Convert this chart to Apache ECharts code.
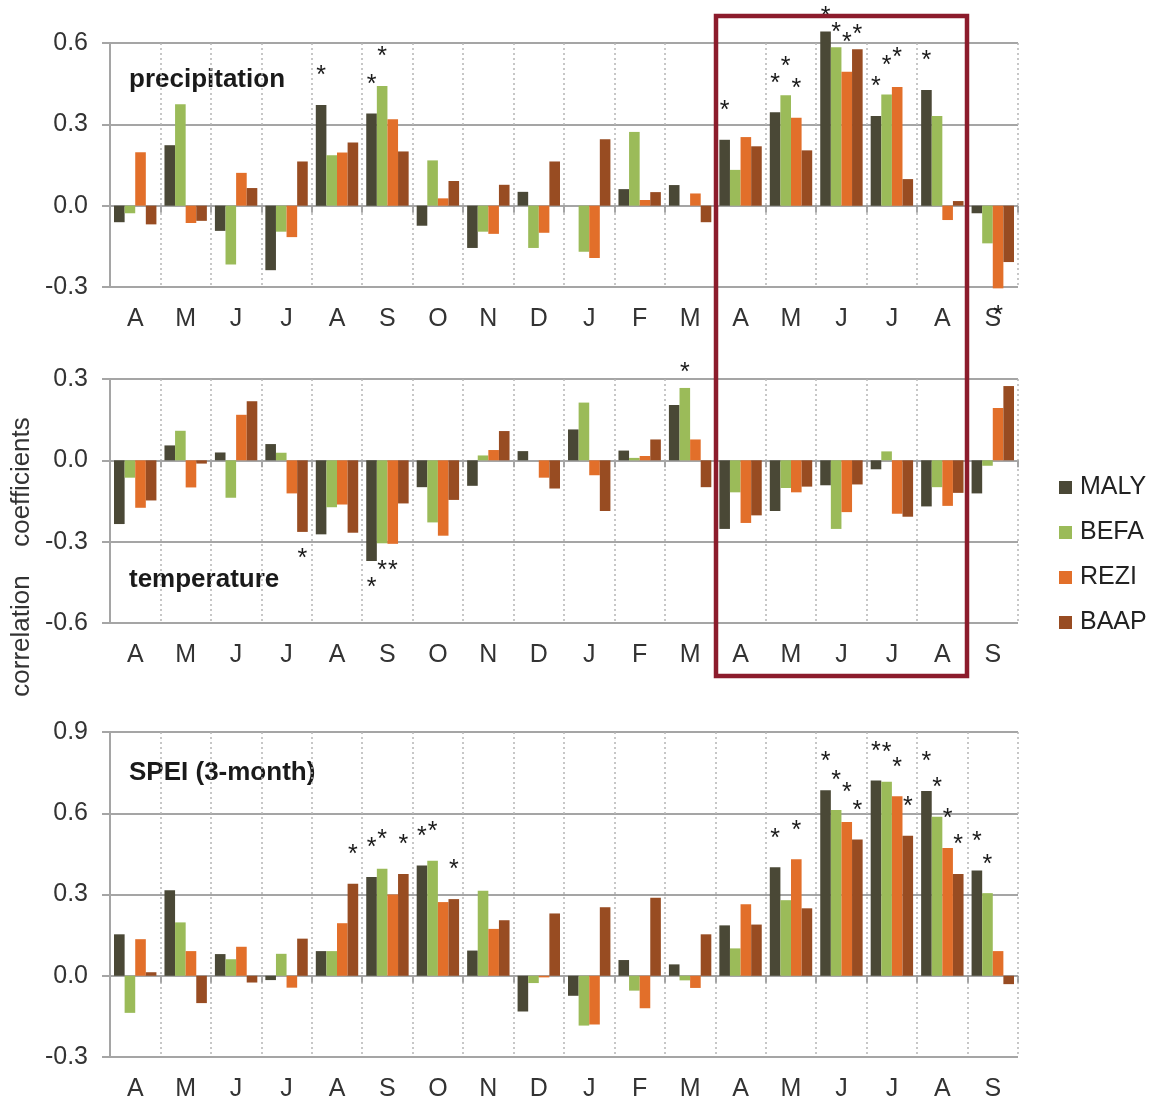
<!DOCTYPE html>
<html><head><meta charset="utf-8">
<script src="https://cdn.jsdelivr.net/npm/echarts@6/dist/echarts.min.js"></script>
<style>html,body{margin:0;padding:0;background:#fff}#c{width:1154px;height:1102px}</style>
</head><body><div id="c"></div>
<script>
const months = ['A','M','J','J','A','S','O','N','D','J','F','M','A','M','J','J','A','S'];
const stationNames = ['MALY','BEFA','REZI','BAAP'];
const panelTitles = ['precipitation','temperature','SPEI (3-month)'];

const precipMALY = [-0.061, 0.223, -0.093, -0.238, 0.371, 0.340, -0.074, -0.156, 0.051, 0.0, 0.061, 0.076, 0.243, 0.345, 0.642, 0.331, 0.427, -0.028];
const precipBEFA = [-0.028, 0.374, -0.217, -0.096, 0.186, 0.441, 0.167, -0.096, -0.156, -0.170, 0.272, 0.0, 0.132, 0.407, 0.584, 0.410, 0.331, -0.139];
const precipREZI = [0.197, -0.064, 0.121, -0.116, 0.196, 0.319, 0.027, -0.104, -0.100, -0.193, 0.021, 0.045, 0.253, 0.324, 0.494, 0.438, -0.053, -0.305];
const precipBAAP = [-0.069, -0.056, 0.065, 0.163, 0.233, 0.200, 0.091, 0.077, 0.163, 0.245, 0.050, -0.061, 0.219, 0.204, 0.577, 0.098, 0.017, -0.208];

const tempMALY = [-0.235, 0.055, 0.029, 0.060, -0.273, -0.371, -0.099, -0.094, 0.034, 0.114, 0.036, 0.204, -0.253, -0.187, -0.092, -0.033, -0.170, -0.122];
const tempBEFA = [-0.064, 0.109, -0.138, 0.028, -0.173, -0.306, -0.229, 0.018, 0.0, 0.213, 0.009, 0.267, -0.118, -0.102, -0.253, 0.033, -0.099, -0.020];
const tempREZI = [-0.175, -0.100, 0.168, -0.122, -0.163, -0.308, -0.278, 0.038, -0.064, -0.055, 0.016, 0.077, -0.231, -0.118, -0.191, -0.197, -0.168, 0.193];
const tempBAAP = [-0.148, -0.012, 0.218, -0.264, -0.267, -0.159, -0.146, 0.108, -0.104, -0.187, 0.077, -0.099, -0.203, -0.097, -0.089, -0.208, -0.120, 0.274];

const speiMALY = [0.153, 0.316, 0.080, -0.016, 0.091, 0.365, 0.407, 0.093, -0.132, -0.074, 0.058, 0.042, 0.186, 0.401, 0.685, 0.721, 0.682, 0.389];
const speiBEFA = [-0.137, 0.197, 0.061, 0.081, 0.091, 0.395, 0.425, 0.314, -0.027, -0.184, -0.055, -0.017, 0.101, 0.279, 0.612, 0.716, 0.587, 0.305];
const speiREZI = [0.135, 0.091, 0.107, -0.044, 0.194, 0.300, 0.272, 0.173, -0.006, -0.180, -0.120, -0.045, 0.264, 0.430, 0.568, 0.663, 0.472, 0.091];
const speiBAAP = [0.013, -0.101, -0.025, 0.137, 0.340, 0.376, 0.283, 0.205, 0.230, 0.253, 0.288, 0.153, 0.189, 0.249, 0.503, 0.517, 0.376, -0.031];

// indices of significant correlations (marked with *)
const precipSigMALY = [4, 5, 12, 13, 14, 15, 16];
const precipSigBEFA = [5, 13, 14, 15];
const precipSigREZI = [13, 14, 15, 17];
const precipSigBAAP = [14];
const tempSigMALY = [5];
const tempSigBEFA = [5, 11];
const tempSigREZI = [5];
const tempSigBAAP = [3];
const speiSigMALY = [5, 6, 13, 14, 15, 16, 17];
const speiSigBEFA = [5, 6, 14, 15, 16, 17];
const speiSigREZI = [13, 14, 15, 16];
const speiSigBAAP = [4, 5, 6, 14, 15, 16];

const yMin = [-0.3, -0.6, -0.3];
const yMax = [0.6, 0.3, 0.9];
const yInterval = 0.3;

const panelValues = [
  [precipMALY, precipBEFA, precipREZI, precipBAAP],
  [tempMALY, tempBEFA, tempREZI, tempBAAP],
  [speiMALY, speiBEFA, speiREZI, speiBAAP]
];
const panelSig = [
  [precipSigMALY, precipSigBEFA, precipSigREZI, precipSigBAAP],
  [tempSigMALY, tempSigBEFA, tempSigREZI, tempSigBAAP],
  [speiSigMALY, speiSigBEFA, speiSigREZI, speiSigBAAP]
];

const colors = ['#4a4836', '#9bbb59', '#e26f2a', '#984c22'];
const FONT = '"Liberation Sans", Arial, sans-serif';
const gridColor = '#a5a5a5';
const grids = [
  {left: 110, right: 136, top: 43, height: 244},
  {left: 110, right: 136, top: 379, height: 244},
  {left: 110, right: 136, top: 732, height: 326}
];

const xAxes = [], yAxes = [], series = [];
for (let p = 0; p < 3; p++) {
  xAxes.push({
    type: 'category', gridIndex: p, data: months, position: 'bottom',
    axisLine: {show: false, onZero: false}, axisTick: {show: false},
    axisLabel: {interval: 0, margin: 20, fontSize: 25, color: '#333', fontFamily: FONT},
    splitLine: {show: true, interval: 0, lineStyle: {type: [2, 3], color: '#b5b5b5', width: 1.5}}
  });
  xAxes.push({
    type: 'category', gridIndex: p, data: months, position: 'top',
    axisLine: {show: false, onZero: true},
    axisTick: {show: true, inside: true, length: 7, lineStyle: {color: gridColor, width: 2}},
    axisLabel: {show: false}, splitLine: {show: false}
  });
  yAxes.push({
    type: 'value', gridIndex: p, min: yMin[p], max: yMax[p], interval: yInterval,
    axisLine: {show: true, lineStyle: {color: gridColor, width: 2}},
    axisTick: {show: true, length: 8, lineStyle: {color: gridColor, width: 2}},
    axisLabel: {fontSize: 25, color: '#333', margin: 22, fontFamily: FONT,
      formatter: v => (Math.abs(v) < 1e-9 ? 0 : v).toFixed(1)},
    splitLine: {show: true, lineStyle: {color: gridColor, width: 2}}
  });
  for (let s = 0; s < 4; s++) {
    const vals = panelValues[p][s];
    const sig = panelSig[p][s];
    series.push({
      type: 'bar', name: stationNames[s], xAxisIndex: 2 * p, yAxisIndex: p,
      barWidth: 10.6, barGap: '0%', itemStyle: {color: colors[s]},
      clip: false,
      data: vals.map((v, i) => {
        const o = {value: v};
        if (sig.indexOf(i) >= 0) {
          const crowded = v >= 0 && (yMax[p] - v) < 0.08;
          o.label = {show: true, formatter: '*', position: v >= 0 ? 'top' : 'bottom',
            distance: v >= 0 ? (crowded ? 2 : 16) : 15,
            fontSize: 25, color: '#1a1a1a', fontFamily: FONT};
        }
        return o;
      })
    });
  }
}

const graphics = [
  {type: 'text', left: 129, top: 67, style: {text: panelTitles[0], font: 'bold 26px ' + FONT, fill: '#1a1a1a'}},
  {type: 'text', left: 129, top: 567, style: {text: panelTitles[1], font: 'bold 26px ' + FONT, fill: '#1a1a1a'}},
  {type: 'text', left: 129, top: 760, style: {text: panelTitles[2], font: 'bold 26px ' + FONT, fill: '#1a1a1a'}},
  {type: 'text', x: 22, y: 636, rotation: Math.PI / 2,
    style: {text: 'correlation', font: '26px ' + FONT, fill: '#333', textAlign: 'center', textVerticalAlign: 'middle'}},
  {type: 'text', x: 22, y: 482, rotation: Math.PI / 2,
    style: {text: 'coefficients', font: '26px ' + FONT, fill: '#333', textAlign: 'center', textVerticalAlign: 'middle'}},
  {type: 'rect', z: 100, shape: {x: 716, y: 16, width: 251, height: 660},
    style: {fill: 'none', stroke: '#8c1c2c', lineWidth: 4.5}}
];

const chart = echarts.init(document.getElementById('c'), null, {renderer: 'canvas'});
chart.setOption({
  animation: false,
  color: colors,
  textStyle: {fontFamily: FONT},
  grid: grids,
  xAxis: xAxes,
  yAxis: yAxes,
  legend: {
    data: stationNames, orient: 'vertical', left: 1059, top: 475, padding: 0,
    icon: 'rect', itemWidth: 13, itemHeight: 13, itemGap: 20,
    textStyle: {fontSize: 25, color: '#222', fontFamily: FONT, padding: [0, 0, 0, 3]}
  },
  graphic: graphics,
  series: series
});
</script></body></html>
